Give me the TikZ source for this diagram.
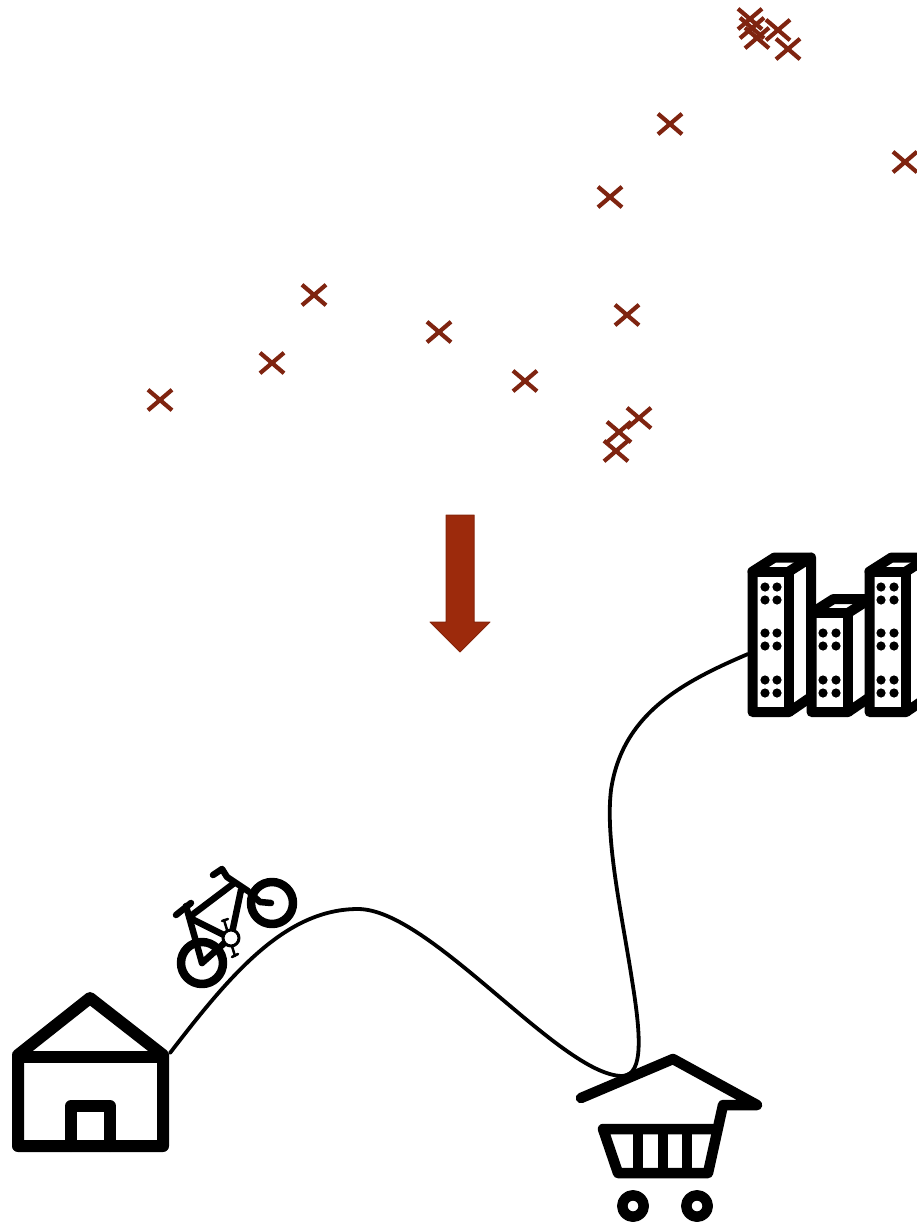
\documentclass[tikz,border=0pt]{standalone}
\usepackage{tikz}
\usetikzlibrary{shapes.misc}
\definecolor{crossred}{HTML}{7F2410}
\definecolor{arrowred}{HTML}{9C2A0C}

\begin{document}
\begin{tikzpicture}[x=1pt, y=-1pt, line join=round, line cap=round,
	crossmark/.style={cross out, draw=crossred, line width=4.2pt, line cap=butt, minimum width=24pt, minimum height=20.5pt, inner sep=0pt, outer sep=0pt},
	icon/.style={draw=black, line width=10pt},
	bikeline/.style={draw=black, line width=6.5pt},
	route/.style={draw=black, line width=3.8pt}]
	\useasboundingbox (0,0) rectangle (917,1223);
	\foreach \cx/\cy [count=\i] in {750/19,752/28,757/38,778/30,788/49,670/124,905/162,610/197,314/295,627/315,439/332,272/363,525/381,160/400,639/418,619/432,616/451} {\node[crossmark] (cross\i) at (\cx,\cy) {};}
	\fill[arrowred, draw=arrowred!85!black, line width=1pt] (446,515) -- (474,515) -- (474,622) -- (490,622) -- (460,652) -- (430,622) -- (446,622) -- cycle;
	\foreach \bx/\by in {752.5/571.5,811.5/613,869.5/571.5} {
		\draw[icon, fill=white] (\bx,\by) -- (\bx+22,\by-14) -- (\bx+58.5,\by-14) -- (\bx+58.5,697) -- (\bx+36.5,712) -- (\bx,712) -- cycle;
		\draw[icon] (\bx,\by) -- (\bx+36.5,\by) -- (\bx+36.5,712);
		\draw[icon] (\bx+36.5,\by) -- (\bx+58.5,\by-14);
	}
	\foreach \dx in {765,777,881,894} {\foreach \dy in {587,600,633,646,680,693} {\fill (\dx,\dy) circle (4.6);}}
	\foreach \dx in {823,836} {\foreach \dy in {633,646,680,693} {\fill (\dx,\dy) circle (4.6);}}
	\draw[icon, line width=12pt] (18,1055) -- (90,998) -- (163,1055) -- (163,1146) -- (18,1146) -- cycle;
	\draw[icon, line width=12pt] (18,1057) -- (163,1057);
	\draw[icon, line width=12pt] (71,1146) -- (71,1106) -- (110,1106) -- (110,1146);
	\draw[bikeline, line width=8.5pt] (202,963) circle (21);
	\draw[bikeline, line width=8.5pt] (272,903) circle (21);
	\draw[bikeline] (202,963) -- (186,906);
	\draw[bikeline] (190,918) -- (230,938) -- (202,963);
	\draw[bikeline] (192,915) -- (233,884);
	\draw[bikeline] (232,933) -- (241,890);
	\draw[bikeline] (176,915) -- (191,903);
	\draw[bikeline] (213,875) -- (222,869) -- (227,877) -- (248,891);
	\draw[bikeline] (250,893) -- (260,902) -- (271,903);
	\draw[bikeline, line width=2.5pt] (224,920) -- (235,956);
	\draw[bikeline, line width=2.5pt] (222,921) -- (228,919);
	\draw[bikeline, line width=2.5pt] (232,957) -- (238,954);
	\draw[black, line width=3pt, fill=white] (231,938) circle (8);
	\coordinate (house) at (170,1053);
	\coordinate (hill) at (358,909);
	\coordinate (shop) at (622,1076);
	\coordinate (bend) at (611,790);
	\coordinate (office) at (748,654);
	\draw[route] (house) .. controls (230,975) and (285,909) .. (hill) .. controls (430,909) and (560,1075) .. (shop) .. controls (645,1076) and (640,1030) .. (632,980) .. controls (622,915) and (605,840) .. (bend) .. controls (622,715) and (680,683) .. (office);
	\draw[icon, line width=10.5pt] (581,1098) -- (673,1059) -- (757,1105) -- (723,1105) -- (708,1173) -- (618,1173) -- (603,1129) -- (717,1129);
	\foreach \slat in {638,663,687} {\draw[icon, line cap=butt] (\slat,1129) -- (\slat,1173);}
	\foreach \wx in {633,697} {\draw[icon, line width=10.5pt] (\wx,1206) circle (10.7);}
\end{tikzpicture}
\end{document}
